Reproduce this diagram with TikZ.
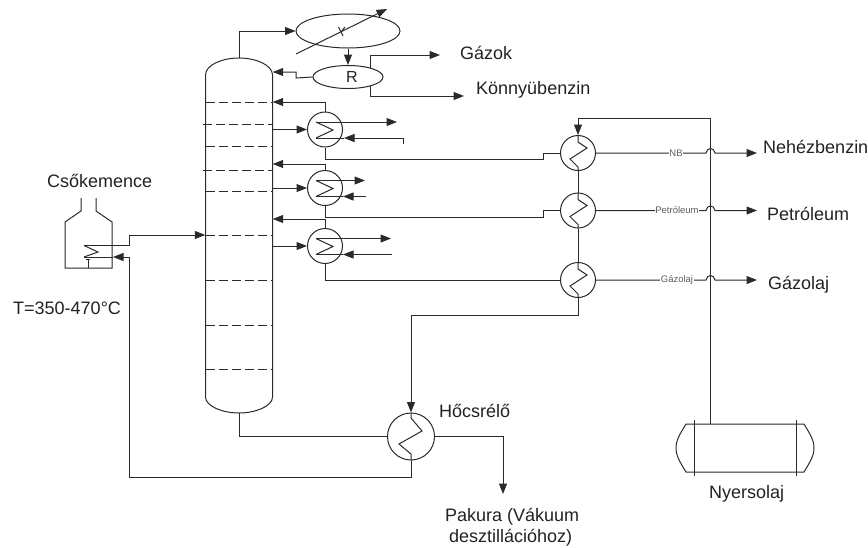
\documentclass[tikz,border=0pt]{standalone}
\usepackage{fontspec}
\setmainfont{Liberation Sans}
\usetikzlibrary{arrows.meta,shapes.geometric,calc}
\definecolor{ln}{HTML}{2A2A2A}
\definecolor{tx}{HTML}{222222}
\tikzset{
  pipe/.style={draw=ln,line width=1pt},
  flow/.style={pipe,-{Triangle[length=10.5pt,width=8pt]}},
  hx/.style={circle,draw=ln,line width=1pt,inner sep=0pt,minimum size=35pt},
  hxbig/.style={circle,draw=ln,line width=1pt,inner sep=0pt,minimum size=47pt},
  vessel/.style={ellipse,draw=ln,line width=1pt,inner sep=0pt},
  tray/.style={draw=ln,line width=0.9pt,dash pattern=on 9pt off 4pt},
  lab/.style={font=\fontsize{18}{20}\selectfont,text=tx,inner sep=0pt,anchor=west},
  tiny/.style={font=\fontsize{9.5}{10}\selectfont,text=ln!75,fill=white,inner sep=0.8pt},
}
\begin{document}
\begin{tikzpicture}[x=1pt,y=-1pt]
\useasboundingbox (0,0) rectangle (868,547);
% column
\node[minimum width=67pt,minimum height=355pt,inner sep=0pt,draw=none] (column) at (239,235.5) {};
\draw[pipe] (205.5,75) .. controls (205.5,65) and (222,58) .. (239,58) .. controls (256,58) and (272.5,65) .. (272.5,75) -- (272.5,397) .. controls (272.5,406) and (256,413) .. (239,413) .. controls (222,413) and (205.5,406) .. (205.5,397) -- cycle;
\foreach \y/\a in {102/205.5,124/203,146/205.5,170/203,191/205.5,235/205.5,280/205.5,325/205.5,369/205.5}
  \draw[tray] (\a,\y) -- (272,\y);
% vessels
\node[vessel,minimum width=104pt,minimum height=34pt] (K) at (348,31) {};
\node[vessel,minimum width=70pt,minimum height=23pt] (R) at (348,77) {};
\node[font=\fontsize{16}{16}\selectfont,text=tx,inner sep=0pt] (Rt) at (352,77) {R};
\coordinate (kA) at (296,54);
\coordinate (kB) at (387,9);
\draw[flow] (kA) -- (kB);
\draw[pipe] (338.5,27) -- (343,36) (345,27) -- (341,32);
\draw[flow] (K.south) -- (R.north);
\draw[flow] (239,58) -- (239,31) -- (K.west);
\draw[flow] (R.west) -- (296,78) -- (296,72) -- (column.east |- 0,72);
\coordinate (gazokEnd) at (440,55);
\coordinate (konnyuEnd) at (464,96);
\draw[flow] (370,68) -- (370,55) -- (gazokEnd);
\draw[flow] (370,86) -- (370,96) -- (konnyuEnd);
% side exchangers
\node[hx] (h1) at (325,129.5) {};
\node[hx] (h2) at (325,188) {};
\node[hx] (h3) at (325,246) {};
\foreach \n in {h1,h2,h3}{
  \draw[pipe] ($(\n)+(-9,-7.5)$) -- ($(\n)+(8,0.5)$) -- ($(\n)+(-9,8.5)$);
}
\draw[flow] (h1.north) -- (325,102) -- (column.east |- 0,102);
\draw[flow] (column.east |- h1) -- (h1.west);
\draw[flow] ($(h1)+(-9,-7.5)$) -- (397,122);
\draw[flow] (403,144) -- (403,138) -- ($(h1)+(19,8.5)$);
\draw[pipe] ($(h1)+(-9,8.5)$) -- ($(h1)+(19,8.5)$);
\draw[flow] (h2.north) -- (325,164) -- (column.east |- 0,164);
\draw[flow] (column.east |- h2) -- (h2.west);
\draw[flow] ($(h2)+(-9,-7.5)$) -- (365,180.5);
\draw[flow] (366,196.5) -- ($(h2)+(18,8.5)$);
\draw[pipe] ($(h2)+(-9,8.5)$) -- ($(h2)+(18,8.5)$);
\draw[flow] (h3.north) -- (325,219) -- (column.east |- 0,219);
\draw[flow] (column.east |- h3) -- (h3.west);
\draw[flow] ($(h3)+(-9,-7.5)$) -- (391,238.5);
\draw[flow] (392,254.5) -- ($(h3)+(18,8.5)$);
\draw[pipe] ($(h3)+(-9,8.5)$) -- ($(h3)+(18,8.5)$);
% right exchangers
\node[hx] (h4) at (578,153) {};
\node[hx] (h5) at (578,210.5) {};
\node[hx] (h6) at (578,280) {};
\foreach \n in {h4,h5,h6}{
  \draw[pipe] (\n.north) -- ($(\n)+(0,-11)$) -- ($(\n)+(9,-5)$) -- ($(\n)+(-8,6)$) -- ($(\n)+(0,14)$) -- (\n.south);
}
\draw[pipe] (h1.south) -- (325,159) -- (543,159) -- (543,153) -- (h4.west);
\draw[pipe] (h2.south) -- (325,217) -- (543,217) -- (543,210.5) -- (h5.west);
\draw[pipe] (h3.south) -- (325,280) -- (h6.west);
\draw[pipe] (h4.south) -- (h5.north);
\draw[pipe] (h5.south) -- (h6.north);
% tank
\node[minimum width=138pt,minimum height=48pt,inner sep=0pt,draw=none] (tank) at (745,448) {};
\draw[pipe] (686,424) -- (804,424) .. controls (810,434) and (814,440) .. (814,448) .. controls (814,456) and (810,462) .. (804,472) -- (686,472) .. controls (680,462) and (676,456) .. (676,448) .. controls (676,440) and (680,434) .. (686,424) -- cycle;
\draw[pipe] (694,420) -- (694,476) (796,420) -- (796,476);
\draw[flow] (710,424) -- (710,118) -- (578,118) -- (h4.north);
% product lines
\coordinate (nbEnd) at (757,153);
\coordinate (petEnd) at (757,210.5);
\coordinate (gazEnd) at (757,280);
\foreach \n/\e in {h4/nbEnd,h5/petEnd,h6/gazEnd}{
  \draw[flow] (\n.east) -- (\n.east -| 706,0) .. controls ($(\n.east -| 707,0)+(0,-6)$) and ($(\n.east -| 714,0)+(0,-6)$) .. (\n.east -| 715,0) -- (\e);
}
\node[tiny] (nbT) at (676,153) {NB};
\node[tiny] (petT) at (677,210.5) {Petróleum};
\node[tiny] (gazT) at (677,280) {Gázolaj};
% bottom exchanger
\node[hxbig] (h7) at (411,436.5) {};
\draw[pipe] (h7.north) -- (411,418) -- (422,431) -- (399,444) -- (411,454) -- (h7.south);
\draw[flow] (h6.south) -- (578,315) -- (411,315) -- (h7.north);
\draw[pipe] (239,413) -- (239,436.5) -- (h7.west);
\draw[flow] (h7.east) -- (503,436.5) -- (503,494);
% furnace
\node[minimum width=47pt,minimum height=70pt,inner sep=0pt,draw=none] (furn) at (88.5,233) {};
\draw[pipe] (81,198) -- (81,211) -- (65,222) -- (65,268) -- (112,268) -- (112,222) -- (96,211) -- (96,198);
\draw[pipe] (88,268) -- (88,260);
\draw[pipe] (86,259.5) -- (90,259.5);
\draw[pipe] (84,257) -- (98,252) -- (84,245.5);
\draw[flow] (84,245.5) -- (129,245.5) -- (129,235) -- (column.west |- 0,235);
\draw[flow] (h7.south) -- (411,477) -- (129.5,477) -- (129.5,257) -- (113,257);
\draw[pipe] (113,257) -- (84,257);
% labels
\node[lab] (t1) at (460,53) {Gázok};
\node[lab] (t2) at (476,90) {Könnyübenzin};
\node[lab] (t3) at (763,147) {Nehézbenzin};
\node[lab] (t4) at (767,214) {Petróleum};
\node[lab] (t5) at (768,285) {Gázolaj};
\node[lab] (t6) at (47,181) {Csőkemence};
\node[lab] (t7) at (13,308) {T=350-470°C};
\node[lab] (t8) at (439,411) {Hőcsrélő};
\node[lab] (t9) at (445,517) {Pakura (Vákuum};
\node[lab] (t10) at (449,538) {desztillációhoz)};
\node[lab] (t11) at (709,494) {Nyersolaj};
\end{tikzpicture}
\end{document}
